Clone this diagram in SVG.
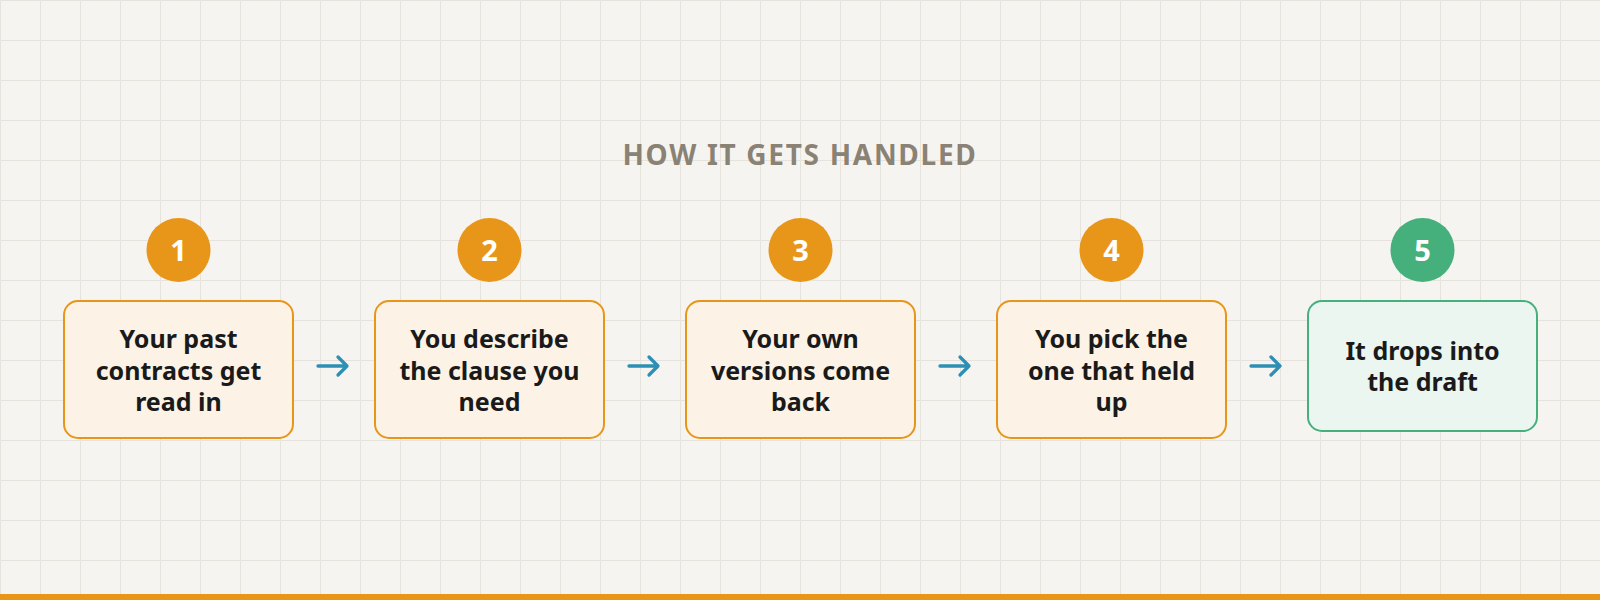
<svg xmlns="http://www.w3.org/2000/svg" width="1600" height="600" viewBox="0 0 1600 600">
<style>
.title{font-family:"Noto Sans","Open Sans",sans-serif;font-weight:700;font-size:28px;letter-spacing:1.7px;fill:#8A8274;text-anchor:middle}
.box{fill:#FCF3E6;stroke:#E8961A;stroke-width:2}
.boxg{fill:#EAF6EF;stroke:#46B07C;stroke-width:2}
.badge{fill:#E8961A}
.badgeg{fill:#46B07C}
.num{font-family:"Noto Sans","Open Sans",sans-serif;font-weight:700;font-size:29px;fill:#FFFFFF;text-anchor:middle}
.lbl{font-family:"Noto Sans","Open Sans",sans-serif;font-weight:700;font-size:25px;fill:#1A1A1A;text-anchor:middle}
.arr{fill:none;stroke:#2E8FB5;stroke-width:3.3;stroke-linecap:round;stroke-linejoin:round}
</style>
<defs>
<pattern id="grid" width="40" height="40" patternUnits="userSpaceOnUse">
<path d="M40 0.5 H0.5 V40" fill="none" stroke="#E6E3DD" stroke-width="1"/>
</pattern>
</defs>
<rect width="1600" height="600" fill="#F6F4F0"/>
<rect width="1600" height="600" fill="url(#grid)"/>
<rect x="0" y="594" width="1600" height="6" fill="#E8961A"/>
<text class="title" x="800" y="165">HOW IT GETS HANDLED</text>

<g id="connectors">
<g id="c1"><path class="arr" d="M318 366 H347 M338 357 L347 366 L338 375"/></g>
<g id="c2"><path class="arr" d="M629 366 H658 M649 357 L658 366 L649 375"/></g>
<g id="c3"><path class="arr" d="M940 366 H969 M960 357 L969 366 L960 375"/></g>
<g id="c4"><path class="arr" d="M1251 366 H1280 M1271 357 L1280 366 L1271 375"/></g>
</g>

<g id="step1">
<circle class="badge" cx="178.5" cy="250" r="32"/>
<text class="num" x="178.5" y="260.5">1</text>
<rect class="box" x="64" y="301" width="229" height="137" rx="14"/>
<text class="lbl" x="178.5" y="348">Your past</text>
<text class="lbl" x="178.5" y="379.5">contracts get</text>
<text class="lbl" x="178.5" y="411">read in</text>
</g>
<g id="step2">
<circle class="badge" cx="489.5" cy="250" r="32"/>
<text class="num" x="489.5" y="260.5">2</text>
<rect class="box" x="375" y="301" width="229" height="137" rx="14"/>
<text class="lbl" x="489.5" y="348">You describe</text>
<text class="lbl" x="489.5" y="379.5">the clause you</text>
<text class="lbl" x="489.5" y="411">need</text>
</g>
<g id="step3">
<circle class="badge" cx="800.5" cy="250" r="32"/>
<text class="num" x="800.5" y="260.5">3</text>
<rect class="box" x="686" y="301" width="229" height="137" rx="14"/>
<text class="lbl" x="800.5" y="348">Your own</text>
<text class="lbl" x="800.5" y="379.5">versions come</text>
<text class="lbl" x="800.5" y="411">back</text>
</g>
<g id="step4">
<circle class="badge" cx="1111.5" cy="250" r="32"/>
<text class="num" x="1111.5" y="260.5">4</text>
<rect class="box" x="997" y="301" width="229" height="137" rx="14"/>
<text class="lbl" x="1111.5" y="348">You pick the</text>
<text class="lbl" x="1111.5" y="379.5">one that held</text>
<text class="lbl" x="1111.5" y="411">up</text>
</g>
<g id="step5">
<circle class="badgeg" cx="1422.5" cy="250" r="32"/>
<text class="num" x="1422.5" y="260.5">5</text>
<rect class="boxg" x="1308" y="301" width="229" height="130" rx="14"/>
<text class="lbl" x="1422.5" y="359.5">It drops into</text>
<text class="lbl" x="1422.5" y="391">the draft</text>
</g>
</svg>
